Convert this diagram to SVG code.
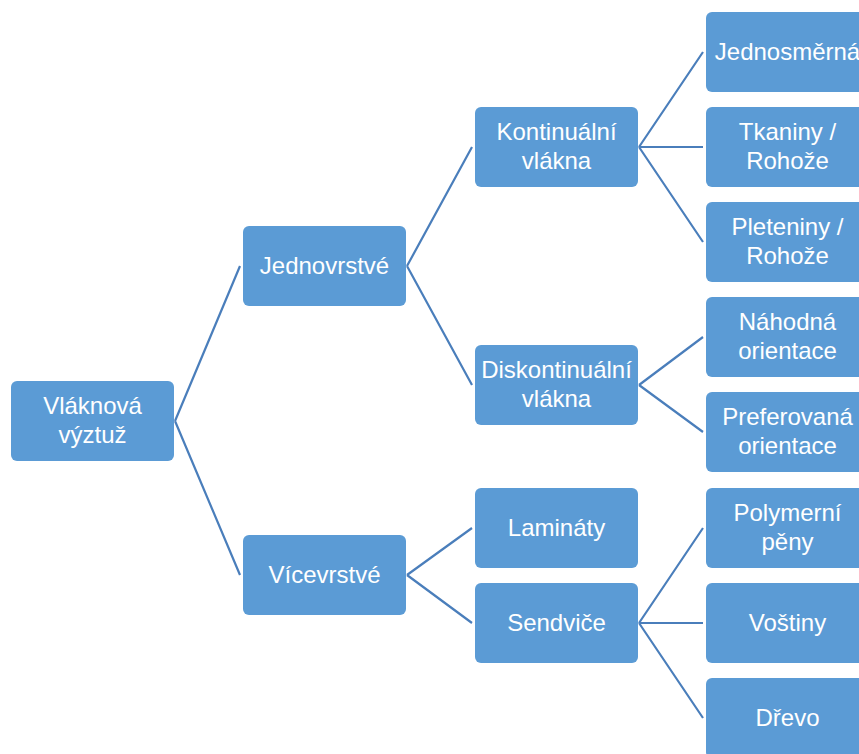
<svg xmlns="http://www.w3.org/2000/svg" width="859" height="754" viewBox="0 0 859 754">
<style>
.box{fill:#5b9bd5;}
.t{fill:#ffffff;font-family:"Liberation Sans",Arial,sans-serif;font-size:24px;text-anchor:middle;}
.c{stroke:#4a7ebb;stroke-width:2.2;fill:none;}
</style>
<rect width="859" height="754" fill="#ffffff"/>
<g id="connectors">
<path class="c" d="M175,421 L240,266 M175,421 L240,575"/>
<path class="c" d="M407,266 L472,147 M407,266 L472,385"/>
<path class="c" d="M407,575 L472,528 M407,575 L472,623"/>
<path class="c" d="M639,147 L703,52 M639,147 L703,147 M639,147 L703,242"/>
<path class="c" d="M639,385 L703,337 M639,385 L703,432"/>
<path class="c" d="M639,623 L703,528 M639,623 L703,623 M639,623 L703,718"/>
</g>
<g id="n0"><rect class="box" x="11" y="381" width="163" height="80" rx="6"/><text class="t" x="92.5" y="414">Vláknová</text><text class="t" x="92.5" y="443">výztuž</text></g>
<g id="n1"><rect class="box" x="243" y="226" width="163" height="80" rx="6"/><text class="t" x="324.5" y="274">Jednovrstvé</text></g>
<g id="n2"><rect class="box" x="243" y="535" width="163" height="80" rx="6"/><text class="t" x="324.5" y="583">Vícevrstvé</text></g>
<g id="n3"><rect class="box" x="475" y="107" width="163" height="80" rx="6"/><text class="t" x="556.5" y="140">Kontinuální</text><text class="t" x="556.5" y="169">vlákna</text></g>
<g id="n4"><rect class="box" x="475" y="345" width="163" height="80" rx="6"/><text class="t" x="556.5" y="378">Diskontinuální</text><text class="t" x="556.5" y="407">vlákna</text></g>
<g id="n5"><rect class="box" x="475" y="488" width="163" height="80" rx="6"/><text class="t" x="556.5" y="536">Lamináty</text></g>
<g id="n6"><rect class="box" x="475" y="583" width="163" height="80" rx="6"/><text class="t" x="556.5" y="631">Sendviče</text></g>
<g id="n7"><rect class="box" x="706" y="12" width="163" height="80" rx="6"/><text class="t" x="787.5" y="60">Jednosměrná</text></g>
<g id="n8"><rect class="box" x="706" y="107" width="163" height="80" rx="6"/><text class="t" x="787.5" y="140">Tkaniny /</text><text class="t" x="787.5" y="169">Rohože</text></g>
<g id="n9"><rect class="box" x="706" y="202" width="163" height="80" rx="6"/><text class="t" x="787.5" y="235">Pleteniny /</text><text class="t" x="787.5" y="264">Rohože</text></g>
<g id="n10"><rect class="box" x="706" y="297" width="163" height="80" rx="6"/><text class="t" x="787.5" y="330">Náhodná</text><text class="t" x="787.5" y="359">orientace</text></g>
<g id="n11"><rect class="box" x="706" y="392" width="163" height="80" rx="6"/><text class="t" x="787.5" y="425">Preferovaná</text><text class="t" x="787.5" y="454">orientace</text></g>
<g id="n12"><rect class="box" x="706" y="488" width="163" height="80" rx="6"/><text class="t" x="787.5" y="521">Polymerní</text><text class="t" x="787.5" y="550">pěny</text></g>
<g id="n13"><rect class="box" x="706" y="583" width="163" height="80" rx="6"/><text class="t" x="787.5" y="631">Voštiny</text></g>
<g id="n14"><rect class="box" x="706" y="678" width="163" height="80" rx="6"/><text class="t" x="787.5" y="726">Dřevo</text></g>
</svg>
